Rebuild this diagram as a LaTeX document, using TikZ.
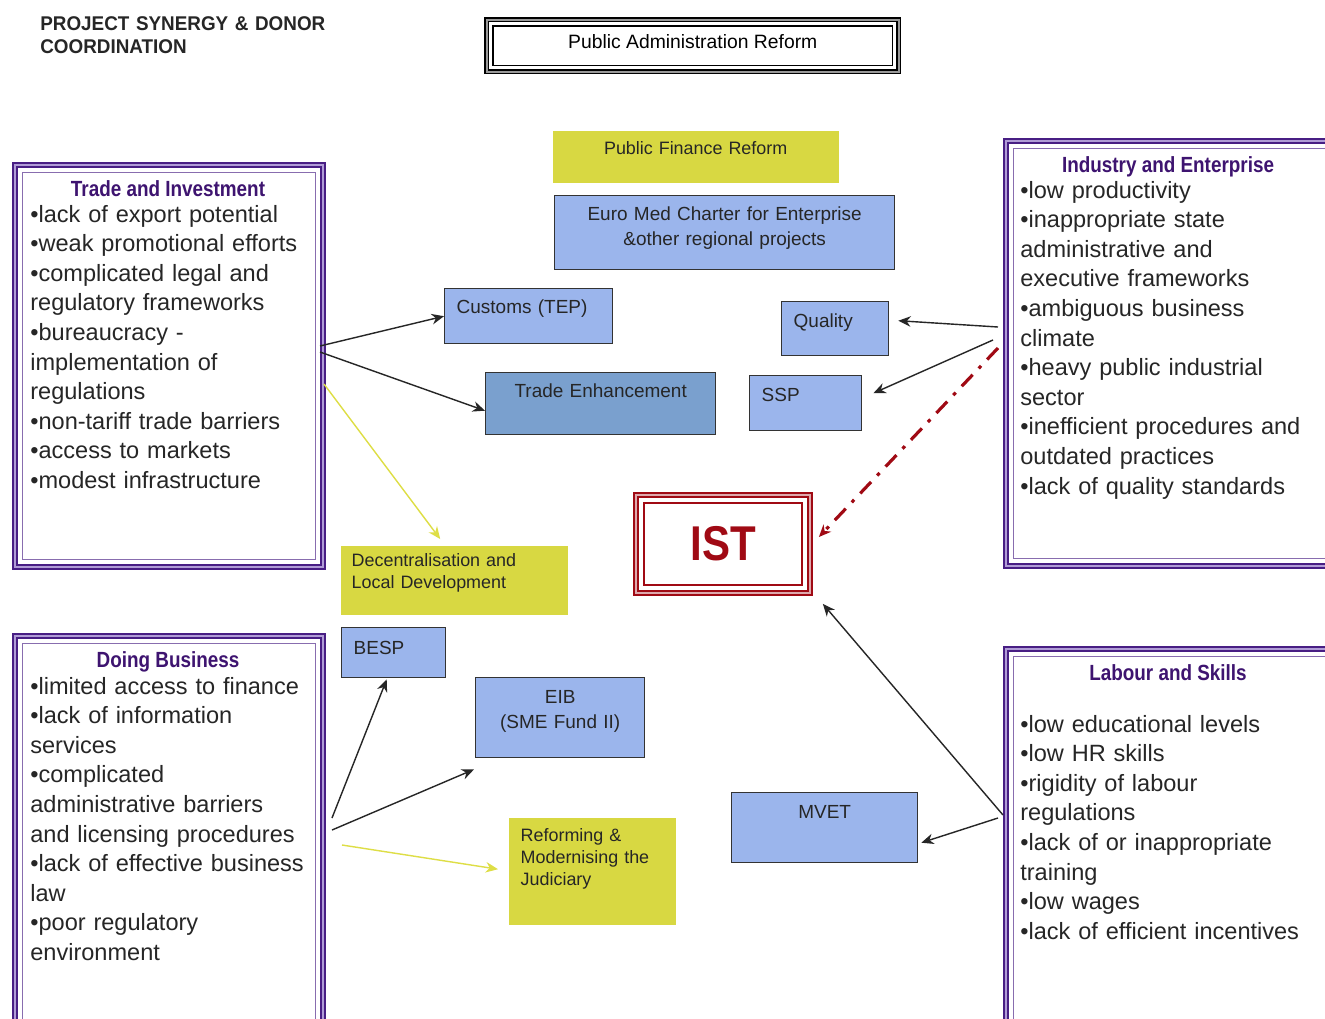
\documentclass[tikz,border=0pt]{standalone}
\usepackage{fontspec}
\setmainfont{Liberation Sans}
\newfontfamily\headfont[FakeStretch=0.86]{Liberation Sans}
\newfontfamily\titlefont[FakeStretch=0.95]{Liberation Sans}
\usetikzlibrary{positioning, arrows.meta, calc}
\definecolor{dpurple}{RGB}{72, 30, 132}
\definecolor{lpurple}{RGB}{176, 156, 214}
\definecolor{tpurple}{RGB}{62, 20, 112}
\definecolor{boxblue}{RGB}{155, 181, 236}
\definecolor{tedblue}{RGB}{122, 160, 206}
\definecolor{ybox}{RGB}{216, 216, 66}
\definecolor{yarrow}{RGB}{222, 222, 70}
\definecolor{istred}{RGB}{160, 10, 20}

\begin{document}
\begin{tikzpicture}[x=0.02cm, y=-0.02cm, >={Stealth[length=7pt,width=6pt]},
      panel/.style={draw=dpurple, line width=1.3pt, double=lpurple,
        double distance=0.9pt, anchor=north west, inner sep=0pt},
      paneltitle/.style={anchor=base, inner sep=0pt, text=tpurple,
        font=\headfont\bfseries\fontsize{12.5}{14}\selectfont},
      panelbody/.style={anchor=base west, align=left, inner sep=0pt,
        text=black!85, font=\fontsize{13.4}{16.85}\selectfont},
      proj/.style={draw=black!80, line width=0.8pt, fill=boxblue,
        anchor=north west, inner ysep=0pt, inner xsep=0.24cm, text=black!85,
        font=\fontsize{10.8}{14.2}\selectfont},
      reform/.style={proj, draw=none, fill=ybox, font=\fontsize{10.2}{12.6}\selectfont},
      link/.style={->, draw=black!85, line width=0.8pt},
      ylink/.style={->, draw=yarrow, line width=0.8pt},
      istlink/.style={->, draw=istred, line width=1.8pt,
        dash pattern=on 9pt off 5pt on 2pt off 5pt}]

    \useasboundingbox (0,0) rectangle (1325,1018);
    \fill[white] (0,0) rectangle (1325,1018);
    \clip (0,0) rectangle (1325,1018);

    %% ---- heading ---------------------------------------------------------
    \node[anchor=base west, align=left, inner sep=0pt, text width=7cm, text=black!85,
      font=\titlefont\bfseries\fontsize{11.3}{13.6}\selectfont] (title) at (40,30)
      {PROJECT SYNERGY \& DONOR\\COORDINATION};

    \node[draw=black, line width=0.9pt, double=black!40, double distance=1pt,
      anchor=north west, inner sep=0pt, minimum width=8.24cm,
      text height=0.58cm, text depth=0.46cm, font=\fontsize{11}{13}\selectfont]
      (pubadmin) at (486,19) {Public Administration Reform};
    \draw[black, line width=0.7pt] ([shift={(4pt,-4pt)}]pubadmin.north west)
      rectangle ([shift={(-4pt,4pt)}]pubadmin.south east);

    %% ---- projects ----------------------------------------------------------
    \node[reform, inner xsep=0pt, text width=5.72cm, align=center,
      text height=0.48cm, text depth=0.56cm] (pubfin) at (552,130) {Public Finance Reform};
    \node[proj, inner xsep=0pt, text width=6.8cm, align=center,
      text height=0.5cm, text depth=0.98cm] (euromed) at (554,195)
      {Euro Med Charter for Enterprise\\\&other regional projects};
    \node[proj, text width=2.88cm, align=left,
      text height=0.5cm, text depth=0.6cm] (customs) at (444,288) {Customs (TEP)};
    \node[proj, fill=tedblue, inner xsep=0pt, text width=4.6cm, align=center,
      text height=0.5cm, text depth=0.74cm] (tradeenh) at (485,372) {Trade Enhancement};
    \node[proj, text width=1.66cm, align=left,
      text height=0.52cm, text depth=0.56cm] (quality) at (781,301) {Quality};
    \node[proj, text width=1.76cm, align=left,
      text height=0.52cm, text depth=0.58cm] (ssp) at (749,375) {SSP};
    \node[reform, inner xsep=0.22cm, text width=4.1cm, align=left,
      text height=0.42cm, text depth=0.96cm] (decent) at (340,545)
      {Decentralisation and\\Local Development};
    \node[proj, text width=1.6cm, align=left,
      text height=0.54cm, text depth=0.46cm] (besp) at (341,627) {BESP};
    \node[proj, inner xsep=0pt, text width=3.38cm, align=center,
      text height=0.52cm, text depth=1.08cm] (eib) at (475,677) {EIB\\(SME Fund II)};
    \node[reform, text width=2.86cm, align=left,
      text height=0.48cm, text depth=1.66cm] (judi) at (508,817)
      {Reforming \&\\Modernising the\\Judiciary};
    \node[proj, inner xsep=0pt, text width=3.72cm, align=center,
      text height=0.52cm, text depth=0.88cm] (mvet) at (731,792) {MVET};

    %% ---- IST ---------------------------------------------------------------
    \node[draw=istred, line width=1pt, double=istred!35, double distance=1.2pt,
      minimum width=3.48cm, minimum height=1.96cm, inner sep=0pt, text=istred,
      font=\headfont\bfseries\fontsize{27.8}{30}\selectfont] (ist) at (723,544) {IST};
    \draw[istred, line width=0.8pt] ([shift={(5pt,-5pt)}]ist.north west)
      rectangle ([shift={(-5pt,5pt)}]ist.south east);

    %% ---- the four panels -------------------------------------------------
    \node[panel, minimum width=6.16cm, minimum height=8.04cm] (ti) at (14,164) {};
    \node[panel, minimum width=6.16cm, minimum height=8.1cm] (db) at (14,635) {};
    \node[panel, minimum width=6.8cm, minimum height=8.5cm] (ie) at (1005,140) {};
    \node[panel, minimum width=6.8cm, minimum height=8cm] (ls) at (1005,648) {};
    \foreach \p in {ti,db,ie,ls}
      \draw[dpurple!65, line width=0.8pt] ([shift={(4.8pt,-4.8pt)}]\p.north west)
        rectangle ([shift={(-4.8pt,4.8pt)}]\p.south east);

    \node[paneltitle] (ti-head) at (168,196) {Trade and Investment};
    \node[panelbody, text width=5.8cm] (ti-body) at (30,222)
      {•lack of export potential\\
       •weak promotional efforts\\
       •complicated legal and\\
       regulatory frameworks\\
       •bureaucracy -\\
       implementation of\\
       regulations\\
       •non-tariff trade barriers\\
       •access to markets\\
       •modest infrastructure};

    \node[paneltitle] (db-head) at (168,667) {Doing Business};
    \node[panelbody, text width=5.8cm] (db-body) at (30,694)
      {•limited access to finance\\
       •lack of information\\
       services\\
       •complicated\\
       administrative barriers\\
       and licensing procedures\\
       •lack of effective business\\
       law\\
       •poor regulatory\\
       environment};

    \node[paneltitle] (ie-head) at (1168,172) {Industry and Enterprise};
    \node[panelbody, text width=6cm] (ie-body) at (1020,198)
      {•low productivity\\
       •inappropriate state\\
       administrative and\\
       executive frameworks\\
       •ambiguous business\\
       climate\\
       •heavy public industrial\\
       sector\\
       •inefficient procedures and\\
       outdated practices\\
       •lack of quality standards};

    \node[paneltitle] (ls-head) at (1168,680) {Labour and Skills};
    \node[panelbody, text width=6cm] (ls-body) at (1020,732)
      {•low educational levels\\
       •low HR skills\\
       •rigidity of labour\\
       regulations\\
       •lack of or inappropriate\\
       training\\
       •low wages\\
       •lack of efficient incentives};

    %% ---- connectors --------------------------------------------------------
    \coordinate (ti-a) at (320,346);
    \coordinate (ti-b) at (320,352);
    \coordinate (ti-c) at (324,384);
    \coordinate (db-a) at (332,818);
    \coordinate (db-b) at (332,830);
    \coordinate (db-c) at (342,845);
    \coordinate (ie-a) at (998,327);
    \coordinate (ie-b) at (993,340);
    \coordinate (ie-c) at (998,348);
    \coordinate (ls-a) at (1003,815);
    \coordinate (ls-b) at (998,818);

    \draw[link] (ti-a) -- (customs.west);
    \draw[link] (ti-b) -- ($(tradeenh.west)+(0,7)$);
    \draw[ylink] (ti-c) -- ($(decent.north)+(-14,-6)$);
    \draw[link] (db-a) -- ($(besp.south)+(-7,1)$);
    \draw[link] (db-b) -- ($(eib.south west)+(-1,11)$);
    \draw[ylink] (db-c) -- ($(judi.west)+(-10,-2)$);
    \draw[link] (ie-a) -- ($(quality.east)+(9,-8)$);
    \draw[link] (ie-b) -- ($(ssp.east)+(11,-10)$);
    \draw[istlink] (ie-c) -- ($(ist.east)+(8,-7)$);
    \draw[link] (ls-a) -- ($(ist.south east)+(12,10)$);
    \draw[link] (ls-b) -- ($(mvet.east)+(3,15)$);
  \end{tikzpicture}
\end{document}
